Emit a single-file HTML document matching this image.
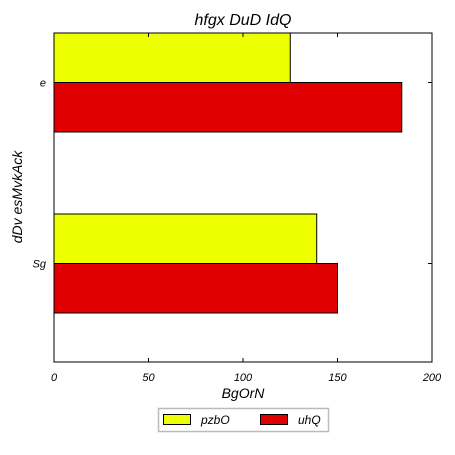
<!DOCTYPE html>
<html><head><meta charset="utf-8"><style>body{margin:0;background:#fff}svg{display:block}text{font-family:"Liberation Sans",sans-serif;font-style:italic}</style></head>
<body>
<div style="position:relative;width:455px;height:455px">
<svg id="c" width="455" height="455" xmlns="http://www.w3.org/2000/svg" style="position:absolute;left:0;top:0">
<text x="243" y="25" text-anchor="middle" font-size="16">hfgx DuD IdQ</text>
<text x="243" y="398" text-anchor="middle" font-size="14">BgOrN</text>
<text x="22" y="197" text-anchor="middle" font-size="14" transform="rotate(-90 22 197)">dDv esMvkAck</text>
<g>
<rect x="158.5" y="408.5" width="170" height="23" fill="#fff" stroke="#bbb" stroke-width="1.5"/>
<rect x="163.5" y="414.5" width="27" height="10" fill="#eeff00" stroke="#000"/>
<text x="201" y="424" font-size="12">pzbO</text>
<rect x="260.5" y="414.5" width="27" height="10" fill="#e00000" stroke="#000"/>
<text x="298" y="424" font-size="12">uhQ</text>
</g>
</svg>
</div>
<script>
const categories = ["e", "Sg"];
const seriesNames = ["pzbO", "uhQ"];
const seriesColors = ["#eeff00", "#e00000"];
const pzbO = [125, 139];
const uhQ = [184, 150];
const xTicks = [0, 50, 100, 150, 200];

const L = 54, R = 432, T = 33, B = 362;
const xMax = 200;
const sx = v => L + (v / xMax) * (R - L);
const barH = 49.5;
const sy = i => T + barH + i * 181;
const NS = "http://www.w3.org/2000/svg";
const svg = document.getElementById("c");
function el(tag, attrs) {
  const e = document.createElementNS(NS, tag);
  for (const k in attrs) e.setAttribute(k, attrs[k]);
  svg.appendChild(e);
  return e;
}
const series = [pzbO, uhQ];
categories.forEach((cat, i) => {
  const cy = sy(i);
  series.forEach((vals, s) => {
    const r = el("rect", {x: L, y: cy - barH + s * barH, width: sx(vals[i]) - L, height: barH, fill: seriesColors[s], stroke: "#000", "stroke-width": 1});
    
    
  });
  const tr = el("line", {x1: R - 4, x2: R, y1: cy, y2: cy, stroke: "#000"});
  
  
  const t = el("text", {x: L - 8, y: cy + 4, "text-anchor": "end", "font-size": 11});
  t.textContent = cat;
  
  
});
xTicks.forEach(v => {
  const x = sx(v);
  const tk = el("line", {x1: x, x2: x, y1: B, y2: B - 4, stroke: "#000"});
  
  
  const tt = el("line", {x1: x, x2: x, y1: T, y2: T + 4, stroke: "#000"});
  
  
  const t = el("text", {x: x, y: B + 19, "text-anchor": "middle", "font-size": 11});
  t.textContent = v;
  
  
});
const frame = el("rect", {x: L, y: T, width: R - L, height: B - T, fill: "none", stroke: "#000", "stroke-width": 1});


</script>
</body></html>
